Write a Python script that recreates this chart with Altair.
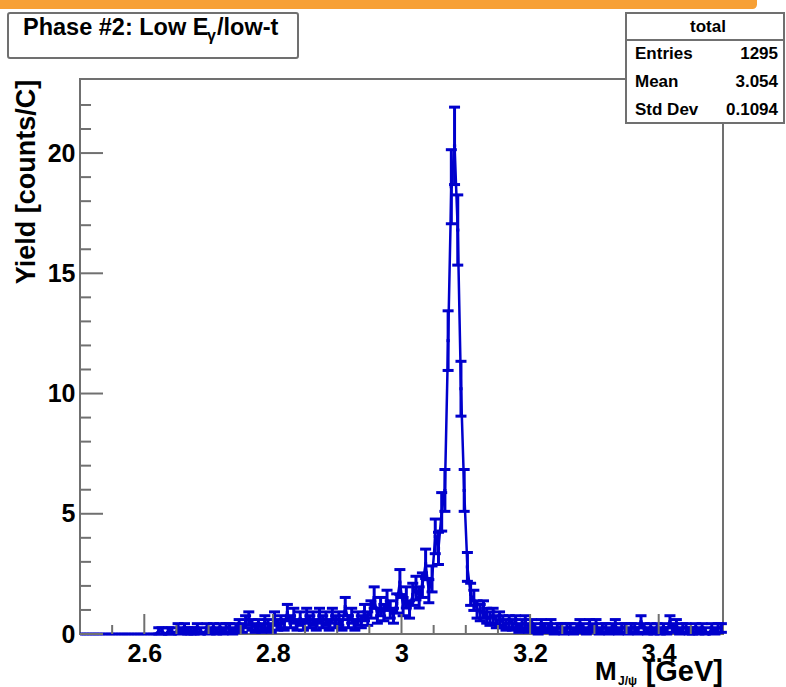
import altair as alt
import pandas as pd

# ---------------- data ----------------
x_min, x_max, n_bins = 2.5, 3.5, 200

yields = [
    0, 0, 0, 0, 0, 0, 0, 0, 0, 0,
    0, 0, 0, 0, 0, 0, 0, 0, 0, 0,
    0, 0, 0, 0, 0.13, 0.13, 0, 0.13, 0.13, 0,
    0.25, 0.13, 0.25, 0.13, 0.13, 0.13, 0.25, 0.13, 0, 0.25,
    0.13, 0.25, 0.13, 0.25, 0.13, 0.25, 0.25, 0.13, 0.25, 0.38,
    0.25, 0.51, 0.64, 0.38, 0.25, 0.38, 0.25, 0.51, 0.38, 0.25,
    0.64, 0.38, 0.51, 0.38, 0.89, 0.51, 0.76, 0.38, 0.64, 0.38,
    0.76, 0.51, 0.64, 0.38, 0.76, 0.51, 0.64, 0.38, 0.76, 0.51,
    0.64, 0.38, 1.14, 0.51, 0.76, 0.38, 0.64, 0.51, 0.89, 0.64,
    1.02, 1.52, 0.76, 1.14, 0.89, 1.40, 1.02, 0.76, 1.27, 2.16,
    1.14, 1.52, 1.02, 1.65, 1.91, 1.52, 2.03, 2.92, 1.78, 2.29,
    4.06, 3.56, 5.08, 5.97, 12.2, 18.6, 20.3, 16.8, 10.2, 5.97,
    2.79, 1.65, 1.40, 1.02, 0.89, 1.02, 0.76, 0.64, 0.76, 0.51,
    0.64, 0.51, 0.38, 0.51, 0.38, 0.51, 0.25, 0.38, 0.51, 0.25,
    0.38, 0.25, 0.13, 0.38, 0.25, 0.25, 0.38, 0.13, 0.25, 0.25,
    0.13, 0.25, 0.25, 0.13, 0.25, 0.38, 0.25, 0.13, 0.38, 0.25,
    0.38, 0.13, 0.25, 0.25, 0.13, 0.25, 0.38, 0.13, 0.25, 0.25,
    0.13, 0.25, 0.25, 0.13, 0.51, 0.25, 0.13, 0.25, 0.13, 0.25,
    0.13, 0.25, 0.13, 0.51, 0.25, 0.38, 0.13, 0.25, 0.25, 0.13,
    0.13, 0.25, 0.13, 0.25, 0.13, 0, 0.25, 0.13, 0.25, 0.25,
]

errors = [
    0, 0, 0, 0, 0, 0, 0, 0, 0, 0,
    0, 0, 0, 0, 0, 0, 0, 0, 0, 0,
    0, 0, 0, 0, 0.13, 0.13, 0, 0.13, 0.13, 0,
    0.18, 0.13, 0.18, 0.13, 0.13, 0.13, 0.18, 0.13, 0, 0.18,
    0.13, 0.18, 0.13, 0.18, 0.13, 0.18, 0.18, 0.13, 0.18, 0.22,
    0.18, 0.25, 0.28, 0.22, 0.18, 0.22, 0.18, 0.25, 0.22, 0.18,
    0.28, 0.22, 0.25, 0.22, 0.34, 0.25, 0.31, 0.22, 0.28, 0.22,
    0.31, 0.25, 0.28, 0.22, 0.31, 0.25, 0.28, 0.22, 0.31, 0.25,
    0.28, 0.22, 0.38, 0.25, 0.31, 0.22, 0.28, 0.25, 0.34, 0.28,
    0.36, 0.44, 0.31, 0.38, 0.34, 0.42, 0.36, 0.31, 0.40, 0.52,
    0.38, 0.44, 0.36, 0.46, 0.49, 0.44, 0.51, 0.61, 0.48, 0.54,
    0.72, 0.67, 0.80, 0.87, 1.24, 1.54, 1.61, 1.46, 1.14, 0.87,
    0.60, 0.46, 0.42, 0.36, 0.34, 0.36, 0.31, 0.28, 0.31, 0.25,
    0.28, 0.25, 0.22, 0.25, 0.22, 0.25, 0.18, 0.22, 0.25, 0.18,
    0.22, 0.18, 0.13, 0.22, 0.18, 0.18, 0.22, 0.13, 0.18, 0.18,
    0.13, 0.18, 0.18, 0.13, 0.18, 0.22, 0.18, 0.13, 0.22, 0.18,
    0.22, 0.13, 0.18, 0.18, 0.13, 0.18, 0.22, 0.13, 0.18, 0.18,
    0.13, 0.18, 0.18, 0.13, 0.25, 0.18, 0.13, 0.18, 0.13, 0.18,
    0.13, 0.18, 0.13, 0.25, 0.18, 0.22, 0.13, 0.18, 0.18, 0.13,
    0.13, 0.18, 0.13, 0.18, 0.13, 0, 0.18, 0.13, 0.18, 0.18,
]

x_major = [2.6, 2.8, 3.0, 3.2, 3.4]
x_minor = [2.55, 2.65, 2.7, 2.75, 2.85, 2.9, 2.95, 3.05, 3.1, 3.15,
           3.25, 3.3, 3.35, 3.45]
y_major = [0, 5, 10, 15, 20]
y_minor = [1, 2, 3, 4, 6, 7, 8, 9, 11, 12, 13, 14, 16, 17, 18, 19, 21, 22]
y_top = 23.08

title_main = "Phase #2: Low E"
title_sub = "γ"
title_tail = "/low-t"
stats_header = "total"
stat_names = ["Entries", "Mean", "Std Dev"]
stat_values = ["1295", "3.054", "0.1094"]
y_title = "Yield [counts/C]"
x_title_main = "M"
x_title_sub = "J/ψ"
x_title_tail = "[GeV]"

# ---------------- table ----------------
bin_w = (x_max - x_min) / n_bins
lo = [x_min + i * bin_w for i in range(n_bins)]
df = pd.DataFrame({
    "lo": lo,
    "hi": [v + bin_w for v in lo],
    "c": [v + bin_w / 2 for v in lo],
    "y": yields,
    "err": errors,
})
df["ylo"] = df["y"] - df["err"]
df["yhi"] = df["y"] + df["err"]
nz = df[df["err"] > 0]

W, H = 643, 555
FONT = "Liberation Sans"
BLUE = "#0000cc"
GREY = "#707070"

xs = alt.Scale(domain=[x_min, x_max], nice=False, zero=False)
ys = alt.Scale(domain=[0, y_top], nice=False, zero=False)

x_axis = alt.Axis(values=x_major, format="~g", labelFont=FONT, labelFontSize=25,
                  labelFontWeight="bold", labelColor="black", ticks=False,
                  domain=False, grid=False, labelPadding=7, title=None,
                  labelFlush=False)
y_axis = alt.Axis(values=y_major, format="d", labelFont=FONT, labelFontSize=25,
                  labelFontWeight="bold", labelColor="black", ticks=False,
                  domain=False, grid=False, labelPadding=5, title=None)

# horizontal bin bars
bars = alt.Chart(df).mark_rule(color=BLUE, strokeWidth=3).encode(
    x=alt.X("lo:Q", scale=xs, axis=x_axis),
    x2="hi:Q",
    y=alt.Y("y:Q", scale=ys, axis=y_axis),
)
# line joining the bin contents
joins = alt.Chart(df).mark_line(color=BLUE, strokeWidth=2.5).encode(
    x=alt.X("c:Q", scale=xs),
    y=alt.Y("y:Q", scale=ys),
    order="c:Q",
)
# vertical error bars
verr = alt.Chart(nz).mark_rule(color=BLUE, strokeWidth=3).encode(
    x=alt.X("c:Q", scale=xs),
    y=alt.Y("ylo:Q", scale=ys),
    y2="yhi:Q",
)
cap_hi = alt.Chart(nz).mark_tick(color=BLUE, orient="horizontal", size=11,
                                 thickness=3, opacity=1).encode(
    x=alt.X("c:Q", scale=xs), y=alt.Y("yhi:Q", scale=ys))
cap_lo = alt.Chart(nz).mark_tick(color=BLUE, orient="horizontal", size=11,
                                 thickness=3, opacity=1).encode(
    x=alt.X("c:Q", scale=xs), y=alt.Y("ylo:Q", scale=ys))

# axis ticks (inside the frame, ROOT style)
xmaj = alt.Chart(pd.DataFrame({"v": x_major})).mark_rule(color=GREY, strokeWidth=2).encode(
    x=alt.X("v:Q", scale=xs), y=alt.value(H), y2=alt.value(H - 20))
xmin_ = alt.Chart(pd.DataFrame({"v": x_minor})).mark_rule(color=GREY, strokeWidth=2).encode(
    x=alt.X("v:Q", scale=xs), y=alt.value(H), y2=alt.value(H - 9))
ymaj = alt.Chart(pd.DataFrame({"v": y_major})).mark_rule(color=GREY, strokeWidth=2).encode(
    y=alt.Y("v:Q", scale=ys), x=alt.value(0), x2=alt.value(23))
ymin_ = alt.Chart(pd.DataFrame({"v": y_minor})).mark_rule(color=GREY, strokeWidth=2).encode(
    y=alt.Y("v:Q", scale=ys), x=alt.value(0), x2=alt.value(11))

one = pd.DataFrame({"a": [0]})


def txt(s, x, y, size, align="left", baseline="alphabetic", angle=0, weight="bold"):
    kw = dict(font=FONT, fontSize=size, fontWeight=weight, color="black",
              align=align, baseline=baseline)
    if angle:
        kw["angle"] = angle
    return alt.Chart(pd.DataFrame({"t": [s]})).mark_text(**kw).encode(
        x=alt.value(x), y=alt.value(y), text="t:N")


def box(x1, x2, y1, y2, fill="white", stroke=GREY, sw=2, **extra):
    return alt.Chart(one).mark_rect(fill=fill, stroke=stroke, strokeWidth=sw, **extra).encode(
        x=alt.value(x1), x2=alt.value(x2), y=alt.value(y1), y2=alt.value(y2))


orange = alt.Chart(one).mark_rect(color="#f7a035", cornerRadiusBottomRight=7).encode(
    x=alt.value(-80), x2=alt.value(677), y=alt.value(-79), y2=alt.value(-70))

title_box = box(-72, 218, -66, -21, cornerRadius=2)
t1 = txt(title_main, -57, -44, 23.5)
t2 = txt(title_sub, 127, -38, 16)
t3 = txt(title_tail, 137, -44, 23.5)

stats_box = box(546, 704, -66, 44)
stats_line = alt.Chart(one).mark_rule(color=GREY, strokeWidth=2).encode(
    x=alt.value(546), x2=alt.value(704), y=alt.value(-39))
s_head = txt(stats_header, 628, -47, 17, align="center")
s_rows = []
for i, (n, v) in enumerate(zip(stat_names, stat_values)):
    yy = -20 + i * 28
    s_rows.append(txt(n, 555, yy, 17))
    s_rows.append(txt(v, 698, yy, 17, align="right"))

ytit = txt(y_title, -53, 103, 27, align="center", baseline="middle", angle=270)
xt1 = txt(x_title_main, 515, 601, 26)
xt2 = txt(x_title_sub, 538, 606, 12)
xt3 = txt(x_title_tail, 643, 602, 29, align="right")

chart = alt.layer(
    orange, joins, bars, verr, cap_hi, cap_lo, xmaj, xmin_, ymaj, ymin_,
    title_box, t1, t2, t3, stats_box, stats_line, s_head, *s_rows,
    ytit, xt1, xt2, xt3,
).properties(
    width=W, height=H,
    autosize=alt.AutoSizeParams(type="none"),
    padding={"left": 80, "top": 79, "right": 63, "bottom": 53},
    background="white",
).configure_view(stroke=GREY, strokeWidth=2)

chart.save("out.html", embed_options={"renderer": "svg", "actions": False})
